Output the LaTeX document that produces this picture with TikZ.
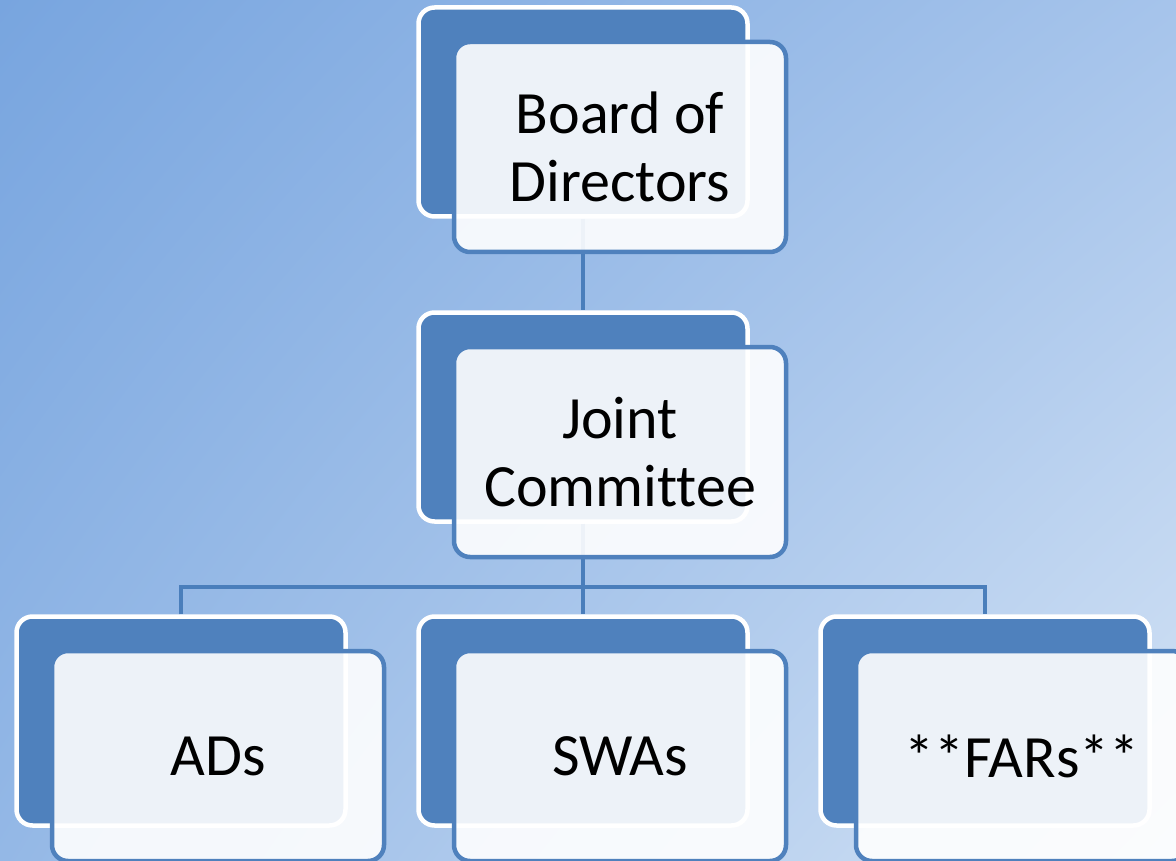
\documentclass[tikz,border=0pt]{standalone}
\usepackage{fontspec}
\setmainfont{Carlito}[Ligatures=CommonOff]
\usetikzlibrary{positioning, calc, shadings}
\definecolor{bgtl}{HTML}{78A5DF}
\definecolor{bgtr}{HTML}{A6C4EB}
\definecolor{bgbl}{HTML}{94B8E6}
\definecolor{bgbr}{HTML}{D4E3F5}
\definecolor{boxblue}{HTML}{4F81BD}
\definecolor{lineblue}{HTML}{4A7EBB}

\tikzset{
  backbox/.style={draw=white, line width=4.5pt, fill=boxblue, rounded corners=16pt,
    minimum width=329pt, minimum height=209pt, inner sep=0pt},
  frontbox/.style={draw=boxblue, line width=4.5pt, fill=white, fill opacity=0.9, text opacity=1,
    rounded corners=16pt, minimum width=332pt, minimum height=210pt, inner sep=0pt,
    align=center, font=\fontsize{60}{68}\selectfont, xshift=37pt, yshift=-35pt},
  link/.style={draw=lineblue, line width=4.5pt}
}

\begin{document}
\begin{tikzpicture}[x=1pt,y=-1pt]
  \def\midx{583}
  \def\colsep{402}

  \shade[upper left=bgtl, upper right=bgtr, lower left=bgbl, lower right=bgbr]
    (0,0) rectangle (1176,861);
  \useasboundingbox (0,0) rectangle (1176,861);

  \node[backbox] (board) at (\midx,112) {};
  \node[backbox] (joint) at (\midx,417) {};
  \node[backbox] (ads) at (\midx-\colsep,721) {};
  \node[backbox] (swas) at (\midx,721) {};
  \node[backbox] (fars) at (\midx+\colsep,721) {};

  \coordinate (split) at (\midx,587);
  \draw[link] (board.south) -- (joint.north);
  \draw[link] (joint.south) -- (swas.north);
  \draw[link] (ads.north) |- (split) -| (fars.north);

  \node[frontbox] (fboard) at (board) {Board of\\Directors};
  \node[frontbox] (fjoint) at (joint) {Joint\\Committee};
  \node[frontbox] (fads) at (ads) {ADs};
  \node[frontbox] (fswas) at (swas) {SWAs};
  \node[frontbox] (ffars) at (fars) {**FARs**};
\end{tikzpicture}
\end{document}
